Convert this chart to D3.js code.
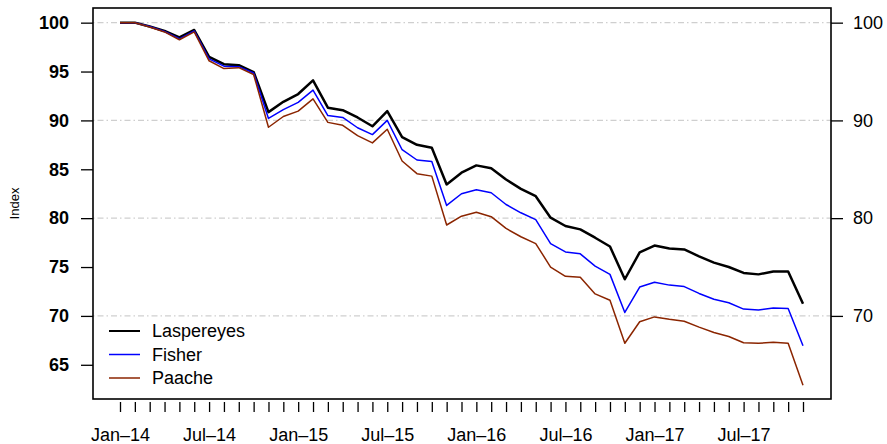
<!DOCTYPE html>
<html lang="en">
<head>
  <meta charset="UTF-8">
  <title>Price indices</title>
  <style>
    body { margin: 0; background: #fff; }
    text { font-family: "Liberation Sans", Arial, Helvetica, sans-serif; fill: #000; }
    .grid { stroke: #cfcfcf; stroke-width: 1.2px; stroke-dasharray: 1.5, 3, 6, 3; }
    .frame { fill: none; stroke: #000; stroke-width: 1.6px; }
    .axis line { stroke: #000; stroke-width: 1.3px; }
    .axis path { display: none; }
    .series { fill: none; stroke-linejoin: round; }
  </style>
</head>
<body>
  <svg width="887" height="444"></svg>

  <script src="https://d3js.org/d3.v7.min.js"></script>
  <script>
    // monthly tick labels, Jan-14 .. Nov-17
    var months = [
      "Jan–14","Feb–14","Mar–14","Apr–14","May–14","Jun–14","Jul–14","Aug–14","Sep–14","Oct–14","Nov–14","Dec–14",
      "Jan–15","Feb–15","Mar–15","Apr–15","May–15","Jun–15","Jul–15","Aug–15","Sep–15","Oct–15","Nov–15","Dec–15",
      "Jan–16","Feb–16","Mar–16","Apr–16","May–16","Jun–16","Jul–16","Aug–16","Sep–16","Oct–16","Nov–16","Dec–16",
      "Jan–17","Feb–17","Mar–17","Apr–17","May–17","Jun–17","Jul–17","Aug–17","Sep–17","Oct–17","Nov–17"
    ];

    var laspeyres = [100, 100, 99.6, 99.15, 98.5, 99.25, 96.5, 95.75, 95.65, 94.95,
      90.85, 91.9, 92.7, 94.1, 91.3, 91.05, 90.3, 89.4, 90.95, 88.3,
      87.5, 87.2, 83.45, 84.65, 85.4, 85.1, 83.95, 83.0, 82.25, 80.05,
      79.2, 78.85, 78.0, 77.1, 73.75, 76.5, 77.2, 76.9, 76.8, 76.1,
      75.45, 75.0, 74.4, 74.25, 74.55, 74.55, 71.25];

    var fisher = [100, 100, 99.6, 99.1, 98.35, 99.15, 96.3, 95.55, 95.5, 94.85,
      90.2, 91.1, 91.85, 93.1, 90.5, 90.3, 89.25, 88.55, 90.0, 87.0,
      85.95, 85.8, 81.3, 82.5, 82.9, 82.6, 81.4, 80.55, 79.85, 77.4,
      76.55, 76.35, 75.1, 74.25, 70.35, 72.95, 73.45, 73.15, 73.0, 72.3,
      71.7, 71.35, 70.7, 70.6, 70.8, 70.75, 66.95];

    var paasche = [100, 100, 99.55, 99.05, 98.25, 99.05, 96.1, 95.3, 95.4, 94.7,
      89.3, 90.4, 90.95, 92.2, 89.8, 89.5, 88.45, 87.7, 89.1, 85.85,
      84.55, 84.3, 79.3, 80.2, 80.6, 80.15, 78.95, 78.1, 77.4, 75.0,
      74.05, 73.95, 72.25, 71.6, 67.2, 69.4, 69.9, 69.65, 69.45, 68.85,
      68.3, 67.9, 67.25, 67.2, 67.3, 67.2, 62.9];

    var seriesNames = ["Laspereyes", "Fisher", "Paache"];
    var seriesColors = ["#000000", "#0000ff", "#8b2500"];
    var seriesWidths = [2.5, 1.5, 1.5];
    var legendWidths = [2, 1.5, 1.5];
    var leftTicks = [65, 70, 75, 80, 85, 90, 95, 100];
    var rightTicks = [70, 80, 90, 100];

    var svg = d3.select("svg");
    var plot = { left: 93, right: 831, top: 8, bottom: 399 };

    var x = d3.scaleLinear().domain([0, months.length - 1]).range([120, 803]);
    var y = d3.scaleLinear().domain([61.5, 101.5]).range([plot.bottom, plot.top]);

    // grid
    svg.append("g").selectAll("line")
      .data(rightTicks)
      .enter().append("line")
      .attr("class", "grid")
      .attr("x1", plot.left).attr("x2", plot.right)
      .attr("y1", d => y(d)).attr("y2", d => y(d));

    // series
    var line = d3.line().x((d, i) => x(i)).y(d => y(d));
    [laspeyres, fisher, paasche].forEach(function(vals, k) {
      svg.append("path")
        .datum(vals)
        .attr("class", "series")
        .attr("stroke", seriesColors[k])
        .attr("stroke-width", seriesWidths[k])
        .attr("d", line);
    });

    svg.append("rect")
      .attr("class", "frame")
      .attr("x", plot.left).attr("y", plot.top)
      .attr("width", plot.right - plot.left).attr("height", plot.bottom - plot.top);

    // axes
    var left = svg.append("g")
      .attr("class", "axis")
      .attr("transform", "translate(" + plot.left + ",0)")
      .call(d3.axisLeft(y).tickValues(leftTicks).tickSize(12).tickPadding(12));
    left.selectAll("text").style("font-size", "18px").style("font-weight", "bold");

    var right = svg.append("g")
      .attr("class", "axis")
      .attr("transform", "translate(" + plot.right + ",0)")
      .call(d3.axisRight(y).tickValues(rightTicks).tickSize(12).tickPadding(10));
    right.selectAll("text").style("font-size", "18px");

    var bottom = svg.append("g")
      .attr("class", "axis")
      .attr("transform", "translate(0,402)")
      .call(d3.axisBottom(x)
        .tickValues(d3.range(months.length))
        .tickSize(10)
        .tickPadding(16)
        .tickFormat(i => i % 6 === 0 ? months[i] : ""));
    bottom.selectAll("text").style("font-size", "18px");

    svg.append("text")
      .attr("transform", "translate(19," + ((plot.top + plot.bottom) / 2) + ") rotate(-90)")
      .attr("text-anchor", "middle")
      .style("font-size", "13px")
      .text("Index");

    // legend
    var legend = svg.append("g").selectAll("g")
      .data(seriesNames)
      .enter().append("g")
      .attr("transform", (d, i) => "translate(0," + (331 + i * 23.5) + ")");
    legend.append("line")
      .attr("x1", 109).attr("x2", 140)
      .attr("stroke", (d, i) => seriesColors[i])
      .attr("stroke-width", (d, i) => legendWidths[i]);
    legend.append("text")
      .attr("x", 152).attr("dy", "0.35em")
      .style("font-size", "18px")
      .text(d => d);
  </script>
</body>
</html>
